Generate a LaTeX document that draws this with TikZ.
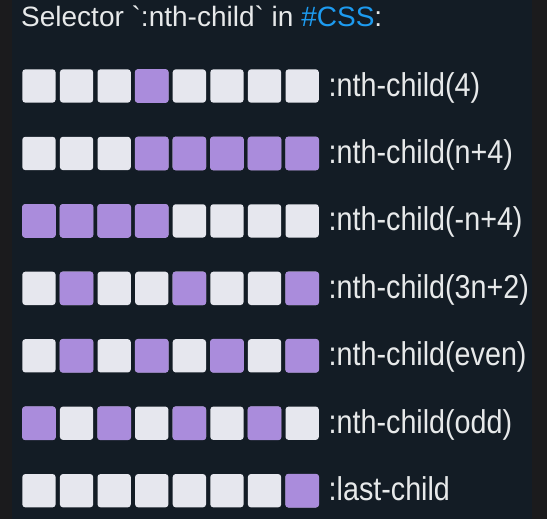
\documentclass[tikz,border=0pt]{standalone}
\usepackage{xcolor}
\usepackage{fontspec}
\usepackage{tikz}

\newfontfamily\titlefont{Liberation Sans}
\newfontfamily\lblfont[FakeStretch=0.87]{Liberation Sans}

\definecolor{outer}{HTML}{1B1B1D}
\definecolor{panel}{HTML}{131C25}
\definecolor{cell}{HTML}{E6E7EE}
\definecolor{picked}{HTML}{AA8CDC}
\definecolor{tag}{HTML}{1D9BF0}
\definecolor{ink}{HTML}{E7E9EA}

\tikzset{
  cellbox/.style={minimum size=33.3pt, inner sep=0pt, rounded corners=3pt, fill=cell},
  lbl/.style={text=ink, inner sep=0pt, font=\lblfont\fontsize{33}{33}\selectfont}
}

\begin{document}
\begin{tikzpicture}[x=1pt, y=-1pt]
  \useasboundingbox (0, 0) rectangle (547, 519);
  \fill[outer] (0, 0) rectangle (547, 519);
  \fill[panel] (11.7, 0) rectangle (532, 519);
  \node[anchor=base west, inner sep=0pt, text=ink, font=\titlefont\fontsize{28}{28}\selectfont] (title) at (21, 26.7)
    {Selector \textasciigrave:nth-child\textasciigrave{} in \textcolor{tag}{\#CSS}:};
  % one row of eight cells per selector
  \foreach \r/\sel/\txt in {1/{4}/{:nth-child(4)}, 2/{4,5,6,7,8}/{:nth-child(n+4)},
      3/{1,2,3,4}/{:nth-child(-n+4)}, 4/{2,5,8}/{:nth-child(3n+2)},
      5/{2,4,6,8}/{:nth-child(even)}, 6/{1,3,5,7}/{:nth-child(odd)}, 7/{8}/{:last-child}} {
    \foreach \c in {1,...,8}
      \node[cellbox] (r\r c\c) at ({22.3 + 16.65 + (\c-1)*37.6}, {86 + (\r-1)*67.45}) {};
    \foreach \c in \sel
      \fill[picked, rounded corners=3pt] (r\r c\c.south west) rectangle (r\r c\c.north east);
    \node[lbl, anchor=base west] (l\r) at ([xshift=9.5pt, yshift=-10pt]r\r c8.east) {\txt};
  }
\end{tikzpicture}
\end{document}
